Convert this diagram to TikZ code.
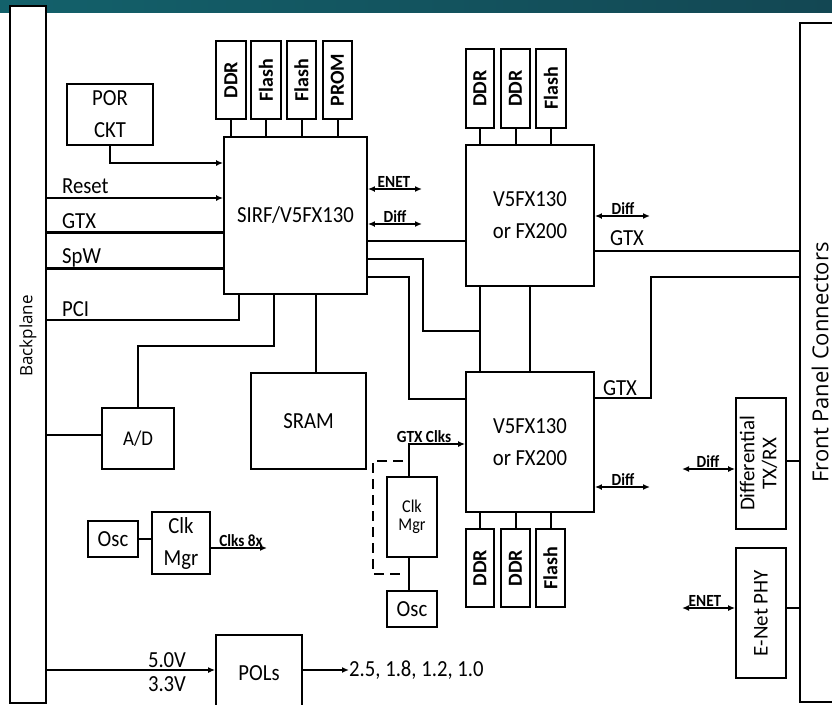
\documentclass[tikz,border=0pt]{standalone}
\usepackage{fontspec}
\setmainfont{Carlito}[FakeStretch=0.9]
\newfontfamily\plain{Carlito}
\newfontfamily\osans{Open Sans}
\usetikzlibrary{arrows.meta}
\definecolor{tealA}{HTML}{13616B}
\definecolor{tealB}{HTML}{134753}
\begin{document}
\begin{tikzpicture}[x=1pt,y=-1pt,
  box/.style={draw, line width=1.8pt, fill=white, inner sep=0pt, align=center, font=\fontsize{23}{32}\selectfont},
  vbox/.style={box, font=\plain\fontsize{20}{22}\selectfont\bfseries},
  conn/.style={line width=2pt},
  thk/.style={line width=3pt},
  thn/.style={line width=1.1pt},
  arr/.style={line width=2pt, -{Latex[length=7pt,width=6pt]}},
  darr/.style={line width=2pt, {Latex[length=7pt,width=6pt]}-{Latex[length=7pt,width=6pt]}},
  lbl/.style={inner sep=0pt, font=\fontsize{23}{26}\selectfont},
  sm/.style={inner sep=0pt, anchor=south, font=\fontsize{17}{17}\selectfont\bfseries},
  dsh/.style={line width=2.5pt, dash pattern=on 10pt off 6pt},
]
\useasboundingbox (0,0) rectangle (832,704);
\shade[left color=tealA, right color=tealB] (0,0) rectangle (832,12);

% big side boxes
\node[box, minimum width=36pt, minimum height=697pt, font=\osans\fontsize{17}{19}\selectfont] (bp) at (28,354.5) {\rotatebox{90}{\hspace*{37pt}Backplane}};
\node[box, minimum width=40pt, minimum height=679pt, font=\osans\fontsize{22}{24}\selectfont] (fp) at (820,362.5) {\rotatebox{90}{Front Panel Connectors}};

% main blocks
\node[box, minimum width=86pt, minimum height=61pt] (por) at (110,114.5) {POR\\CKT};
\node[box, minimum width=143pt, minimum height=157pt] (sirf) at (295.5,215.5) {SIRF/V5FX130};
\node[box, minimum width=128pt, minimum height=141pt] (v5a) at (530,215.5) {V5FX130\\or FX200};
\node[box, minimum width=128pt, minimum height=140pt] (v5b) at (530,442) {V5FX130\\or FX200};
\node[box, minimum width=72pt, minimum height=61pt, font=\fontsize{21}{24}\selectfont] (ad) at (138,438.5) {A/D};
\node[box, minimum width=115pt, minimum height=96pt] (sram) at (308.5,421) {SRAM};
\node[box, minimum width=50pt, minimum height=36pt] (osca) at (113,539) {Osc};
\node[box, minimum width=58pt, minimum height=62pt] (clka) at (181,543) {Clk\\Mgr};
\node[box, minimum width=50pt, minimum height=80pt, font=\fontsize{18}{18}\selectfont] (clkb) at (412,517) {Clk\\Mgr};
\node[box, minimum width=50pt, minimum height=36pt] (oscb) at (412,609) {Osc};
\node[box, minimum width=86pt, minimum height=77pt] (pols) at (259,673.5) {POLs};
\node[box, minimum width=50pt, minimum height=131pt, font=\plain\fontsize{21}{22}\selectfont] (dtx) at (761,463.5) {\rotatebox{90}{\begin{tabular}{@{}c@{}}Differential\\TX/RX\end{tabular}}};
\node[box, minimum width=50pt, minimum height=130pt, font=\plain\fontsize{21}{22}\selectfont] (phy) at (761,613) {\rotatebox{90}{E-Net PHY}};

% memory boxes
\node[vbox, minimum width=30pt, minimum height=78pt] (sddr) at (231,80) {\rotatebox{90}{DDR}};
\node[vbox, minimum width=30pt, minimum height=78pt] (sfla) at (266,80) {\rotatebox{90}{Flash}};
\node[vbox, minimum width=29pt, minimum height=78pt] (sflb) at (301.5,80) {\rotatebox{90}{Flash}};
\node[vbox, minimum width=29pt, minimum height=78pt] (sprom) at (337.5,80) {\rotatebox{90}{PROM}};
\node[vbox, minimum width=28pt, minimum height=79pt] (addra) at (480,88.5) {\rotatebox{90}{DDR}};
\node[vbox, minimum width=29pt, minimum height=79pt] (addrb) at (515.5,88.5) {\rotatebox{90}{DDR}};
\node[vbox, minimum width=30pt, minimum height=79pt] (afl) at (551,88.5) {\rotatebox{90}{Flash}};
\node[vbox, minimum width=28pt, minimum height=78pt] (bddra) at (480,568) {\rotatebox{90}{DDR}};
\node[vbox, minimum width=29pt, minimum height=78pt] (bddrb) at (515.5,568) {\rotatebox{90}{DDR}};
\node[vbox, minimum width=29pt, minimum height=78pt] (bfl) at (550.5,568) {\rotatebox{90}{Flash}};

% memory connectors
\foreach \m in {sddr,sfla,sflb,sprom} \draw[conn] (\m.south) -- (\m.south |- sirf.north);
\foreach \m in {addra,addrb,afl} \draw[conn] (\m.south) -- (\m.south |- v5a.north);
\foreach \m in {bddra,bddrb,bfl} \draw[conn] (\m.north) -- (\m.north |- v5b.south);

% free-end coordinates
\coordinate (enetA) at (422,189);
\coordinate (diffA) at (422,224);
\coordinate (diffB) at (650,216);
\coordinate (diffC) at (650,487);
\coordinate (diffD) at (682,469);
\coordinate (enetB) at (682,608);
\coordinate (clk8) at (267,548);
\coordinate (j1) at (480,331);

% left side signals
\draw[arr] (por.south) |- (sirf.west |- 0,163);
\draw[arr] (bp.east |- 0,198) -- (sirf.west |- 0,198);
\draw[thk] (bp.east |- 0,232) -- (sirf.west |- 0,232);
\draw[thk] (bp.east |- 0,268) -- (sirf.west |- 0,268);
\draw[conn] (bp.east |- 0,320) -| (sirf.south -| 239,0);
\draw[conn] (sirf.south -| 274,0) |- (138,346) -- (ad.north);
\draw[conn] (sirf.south -| 316,0) -- (sram.north -| 316,0);
\draw[conn] (bp.east |- 0,435) -- (ad.west |- 0,435);
\draw[conn] (osca.east |- 0,539) -- (clka.west |- 0,539);
\draw[arr] (clka.east |- 0,548) -- (clk8);
\draw[arr] (bp.east |- 0,670) -- (pols.west |- 0,670);

\node[lbl, anchor=base west] (lreset) at (62,193) {Reset};
\node[lbl, anchor=base west] (lgtx) at (62,228) {GTX};
\node[lbl, anchor=base west] (lspw) at (62,263) {SpW};
\node[lbl, anchor=base west] (lpci) at (62,316) {PCI};
\node[lbl, anchor=base] (l50) at (167,667) {5.0V};
\node[lbl, anchor=base] (l33) at (167,691) {3.3V};
\node[lbl, anchor=west] (volts) at (349,670) {2.5, 1.8, 1.2, 1.0};
\draw[arr] (pols.east |- volts.west) -- (volts.west);
\node[sm] (lclk8) at (241,547) {Clks 8x};

% SIRF right side
\draw[darr] (sirf.east |- enetA) -- (enetA);
\draw[darr] (sirf.east |- diffA) -- (diffA);
\node[sm] (lenetA) at (394,188) {ENET};
\node[sm] (ldiffA) at (395,223) {Diff};
\draw[conn] (sirf.east |- 0,241) -- (v5a.west |- 0,241);
\draw[conn] (sirf.east |- 0,259) -| (423,331) -- (j1);
\draw[conn] (sirf.east |- 0,277) -| (409,399) -- (v5b.west |- 0,399);
\draw[conn] (v5a.south -| j1) -- (v5b.north -| j1);
\draw[conn] (v5a.south) -- (v5b.north);

% V5 right side
\draw[darr] (v5a.east |- diffB) -- (diffB);
\node[sm] (ldiffB) at (623,215) {Diff};
\draw[thn] (v5a.east |- 0,251) -- (fp.west |- 0,251);
\node[lbl, anchor=base] (lgtxA) at (627,245) {GTX};
\draw[conn] (v5b.east |- 0,398) -| (651,277) -- (fp.west |- 0,277);
\node[lbl, anchor=base] (lgtxB) at (620,395) {GTX};
\draw[darr] (v5b.east |- diffC) -- (diffC);
\node[sm] (ldiffC) at (623,486) {Diff};

% clocks for V5b
\draw[arr] (clkb.north -| 409,0) |- (v5b.west |- 0,444);
\node[sm] (lgclk) at (424,443) {GTX Clks};
\draw[conn] (clkb.south -| 409,0) -- (oscb.north -| 409,0);
\draw[dsh] (403,461) -| (373,574) -- (403,574);

% right side
\draw[darr] (diffD) -- (dtx.west |- diffD);
\node[sm] (ldiffD) at (708,468) {Diff};
\draw[line width=1.5pt] (dtx.east |- 0,461) -- (fp.west |- 0,461);
\draw[darr] (enetB) -- (phy.west |- enetB);
\node[sm] (lenetB) at (705,607) {ENET};
\draw[conn] (phy.east |- 0,608) -- (fp.west |- 0,608);
\end{tikzpicture}
\end{document}
